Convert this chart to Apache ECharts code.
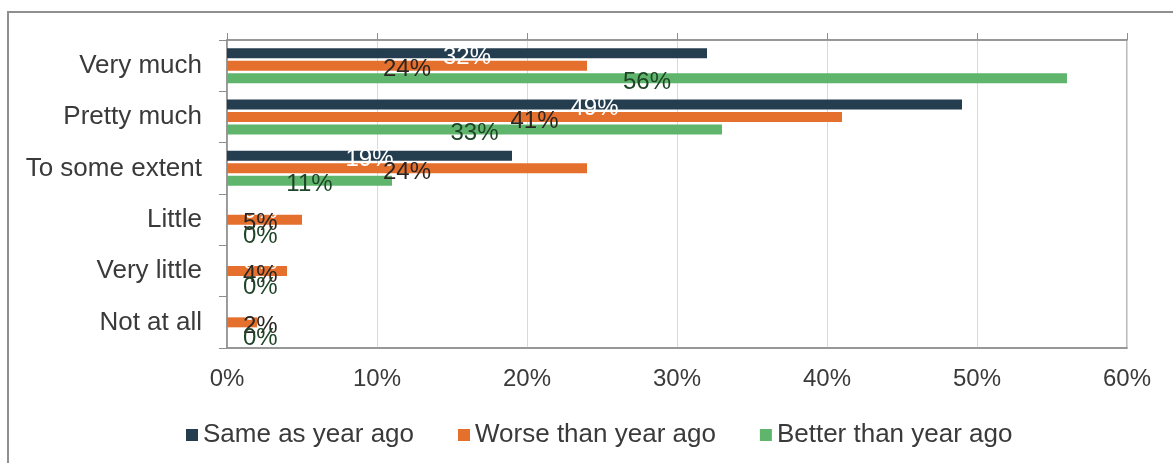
<!DOCTYPE html>
<html>
<head>
<meta charset="utf-8">
<script src="https://cdn.jsdelivr.net/npm/echarts@6/dist/echarts.min.js"></script>
<style>
  html, body { margin: 0; padding: 0; background: #ffffff; }
  #chart { width: 1173px; height: 463px; }
</style>
</head>
<body>
<div id="chart"></div>
<script>
// Survey answers, top to bottom
const categories = ['Very much', 'Pretty much', 'To some extent', 'Little', 'Very little', 'Not at all'];
const sameAsYearAgo = [32, 49, 19, 0, 0, 0];
const worseThanYearAgo = [24, 41, 24, 5, 4, 2];
const betterThanYearAgo = [56, 33, 11, 0, 0, 0];
const seriesNames = ['Same as year ago', 'Worse than year ago', 'Better than year ago'];
const xTicks = { min: 0, max: 60, interval: 10 };

const FONT = '"Liberation Sans", Arial, sans-serif';
const colors = ['#243d4f', '#e5702d', '#5fb56b'];
const labelColors = ['#ffffff', '#2b2622', '#1f4528'];
const textColor = '#3a3a3a';

// Value labels sit at the bar centre; very short bars get theirs pushed in from the axis.
function dataWithLabels(values) {
  return values.map(v => {
    const item = { value: v };
    if (v <= 5) {
      item.label = { position: 'insideLeft', distance: 16 };
    }
    return item;
  });
}

function makeSeries(name, values, idx) {
  return {
    name: name,
    type: 'bar',
    data: dataWithLabels(values),
    barWidth: 10,
    barGap: '25%',
    itemStyle: { color: colors[idx] },
    label: {
      show: true,
      position: 'inside',
      formatter: p => p.value + '%',
      color: labelColors[idx],
      fontFamily: FONT,
      fontSize: 24,
      offset: [0, 4]
    },
    emphasis: { disabled: true },
    animation: false
  };
}

const chart = echarts.init(document.getElementById('chart'), null, { renderer: 'canvas' });
chart.setOption({
  animation: false,
  graphic: [{
    type: 'rect',
    shape: { x: 8, y: 12, width: 1200, height: 500 },
    style: { fill: 'none', stroke: '#8f8f8f', lineWidth: 2 },
    silent: true,
    z: -10
  }],
  grid: {
    left: 227, right: 46, top: 40, bottom: 115,
    show: true, borderColor: '#a8a8a8', borderWidth: 1.5, backgroundColor: 'transparent'
  },
  legend: {
    data: seriesNames,
    left: 181,
    top: 417,
    icon: 'rect',
    itemWidth: 12,
    itemHeight: 12,
    itemGap: 44,
    textStyle: { fontFamily: FONT, fontSize: 26, color: textColor }
  },
  xAxis: [{
    type: 'value',
    position: 'bottom',
    min: xTicks.min, max: xTicks.max, interval: xTicks.interval,
    axisLine: { show: true, lineStyle: { color: '#8c8c8c', width: 1.5 } },
    axisTick: { show: false },
    splitLine: { show: true, lineStyle: { color: '#d9d9d9', width: 1 } },
    axisLabel: {
      formatter: v => v + '%',
      fontFamily: FONT, fontSize: 24, color: textColor, margin: 19
    }
  }, {
    type: 'value',
    position: 'top',
    min: xTicks.min, max: xTicks.max, interval: xTicks.interval,
    axisLine: { show: true, lineStyle: { color: '#8c8c8c', width: 1.5 } },
    axisTick: { show: true, length: 7, lineStyle: { color: '#8c8c8c' } },
    splitLine: { show: false },
    axisLabel: { show: false }
  }],
  yAxis: {
    type: 'category',
    data: categories,
    inverse: true,
    axisLine: { show: true, lineStyle: { color: '#8c8c8c', width: 1.5 } },
    axisTick: { show: true, length: 8, lineStyle: { color: '#8c8c8c' } },
    axisLabel: { fontFamily: FONT, fontSize: 26, color: textColor, margin: 25 }
  },
  series: [
    makeSeries(seriesNames[0], sameAsYearAgo, 0),
    makeSeries(seriesNames[1], worseThanYearAgo, 1),
    makeSeries(seriesNames[2], betterThanYearAgo, 2)
  ]
});
</script>
</body>
</html>
